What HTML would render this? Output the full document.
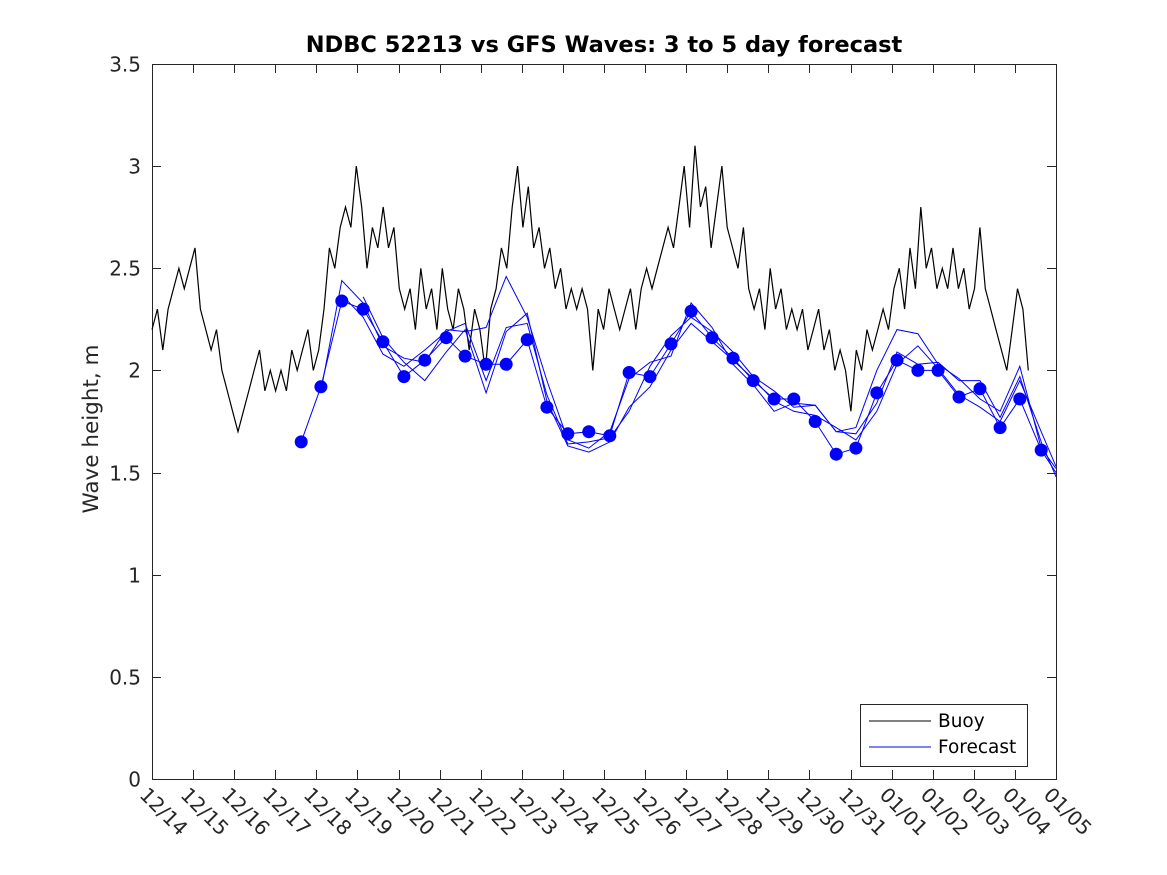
<!DOCTYPE html>
<html><head><meta charset="utf-8">
<style>
html,body{margin:0;padding:0;background:#fff;}
svg{display:block;font-family:"DejaVu Sans","Liberation Sans",sans-serif;}
</style></head>
<body>
<svg id="chart" width="1167" height="875" viewBox="0 0 1167 875" xmlns="http://www.w3.org/2000/svg">
  <rect x="0" y="0" width="1167" height="875" fill="#fff"/>
  <text x="604" y="52" text-anchor="middle" font-size="22.5" font-weight="bold" fill="#000">NDBC 52213 vs GFS Waves: 3 to 5 day forecast</text>
  <text transform="translate(98,429) rotate(-90)" text-anchor="middle" font-size="21.5" fill="#262626">Wave height, m</text>
  <g id="axes"></g>
  <g id="series"></g>
  <g id="legend">
    <rect x="860.5" y="704.5" width="167" height="62" fill="#fff" stroke="#262626" stroke-width="1"/>
    <line x1="869" y1="721" x2="931" y2="721" stroke="#000" stroke-width="1"/>
    <text x="938" y="727" font-size="18.5" fill="#000">Buoy</text>
    <line x1="869" y1="747" x2="931" y2="747" stroke="#0000ff" stroke-width="1"/>
    <text x="938" y="753" font-size="18.5" fill="#000">Forecast</text>
  </g>
</svg>
<script>
// ---- data ----
const xTickLabels = ["12/14","12/15","12/16","12/17","12/18","12/19","12/20","12/21","12/22","12/23","12/24","12/25","12/26","12/27","12/28","12/29","12/30","12/31","01/01","01/02","01/03","01/04","01/05"];
const yTickValues = [0,0.5,1,1.5,2,2.5,3,3.5];
const yTickLabels = ["0","0.5","1","1.5","2","2.5","3","3.5"];
// buoy samples starting 12/14 00:00
const buoyValues = [
2.2,2.3,2.1,2.3,2.4,2.5,2.4,2.5,
2.6,2.3,2.2,2.1,2.2,2.0,1.9,1.8,
1.7,1.8,1.9,2.0,2.1,1.9,2.0,1.9,
2.0,1.9,2.1,2.0,2.1,2.2,2.0,2.1,
2.3,2.6,2.5,2.7,2.8,2.7,3.0,2.8,
2.5,2.7,2.6,2.8,2.6,2.7,2.4,2.3,
2.4,2.2,2.5,2.3,2.4,2.2,2.5,2.3,
2.2,2.4,2.3,2.1,2.3,2.2,2.0,2.3,
2.4,2.6,2.5,2.8,3.0,2.7,2.9,2.6,
2.7,2.5,2.6,2.4,2.5,2.3,2.4,2.3,
2.4,2.3,2.0,2.3,2.2,2.4,2.3,2.2,
2.3,2.4,2.2,2.4,2.5,2.4,2.5,2.6,
2.7,2.6,2.8,3.0,2.7,3.1,2.8,2.9,
2.6,2.8,3.0,2.7,2.6,2.5,2.7,2.4,
2.3,2.4,2.2,2.5,2.3,2.4,2.2,2.3,
2.2,2.3,2.1,2.2,2.3,2.1,2.2,2.0,
2.1,2.0,1.8,2.1,2.0,2.2,2.1,2.2,
2.3,2.2,2.4,2.5,2.3,2.6,2.4,2.8,
2.5,2.6,2.4,2.5,2.4,2.6,2.4,2.5,
2.3,2.4,2.7,2.4,2.3,2.2,2.1,2.0,
2.2,2.4,2.3,2.0];
const buoyStepHours = 3.14;
// forecast times in days since 12/14
const fcDays = [3.63,4.11,4.62,5.14,5.62,6.13,6.64,7.16,7.62,8.13,8.62,9.13,9.61,10.12,10.63,11.14,11.61,12.12,12.63,13.12,13.63,14.14,14.63,15.14,15.62,16.14,16.65,17.13,17.64,18.13,18.64,19.13,19.64,20.15,20.64,21.12,21.64,22.0];
const fcMain = [1.65,1.92,2.34,2.30,2.14,1.97,2.05,2.16,2.07,2.03,2.03,2.15,1.82,1.69,1.70,1.68,1.99,1.97,2.13,2.29,2.16,2.06,1.95,1.86,1.86,1.75,1.59,1.62,1.89,2.05,2.00,2.00,1.87,1.91,1.72,1.86,1.61,1.50];
const fcRun1 = [null,1.90,2.44,2.33,2.12,2.06,2.04,2.20,2.19,2.21,2.46,2.26,1.95,1.66,1.62,1.70,1.96,2.04,2.07,2.33,2.21,2.03,1.93,1.80,1.84,1.83,1.70,1.72,2.00,2.20,2.18,2.03,1.96,1.86,1.80,2.02,1.62,1.52];
const fcRun2 = [null,null,2.37,2.26,2.08,2.02,2.10,2.19,2.23,1.95,2.21,2.23,1.88,1.64,1.65,1.67,1.80,2.02,2.17,2.26,2.19,2.09,1.97,1.90,1.82,1.83,1.70,1.69,1.84,2.09,2.03,2.04,1.95,1.95,1.77,1.97,1.65,1.48];
const fcRun3 = [null,null,null,2.36,2.16,2.04,1.95,2.09,2.20,1.89,2.19,2.28,1.85,1.63,1.60,1.65,1.82,1.92,2.10,2.23,2.14,2.05,1.96,1.85,1.80,1.78,1.72,1.66,1.80,2.03,2.12,2.01,1.88,1.82,1.75,1.95,1.70,1.53];

// ---- axes functions ----
const X0 = 152, X1 = 1056, Y0 = 779, Y1 = 64;
const nDays = 22;
function xs(d){ return X0 + (X1 - X0) * d / nDays; }
function ys(v){ return Y0 - (Y0 - Y1) * v / 3.5; }
const NS = "http://www.w3.org/2000/svg";
function mk(tag, attrs, parent){
  const e = document.createElementNS(NS, tag);
  for (const k in attrs) e.setAttribute(k, attrs[k]);
  parent.appendChild(e);
  return e;
}
const axes = document.getElementById('axes');
const series = document.getElementById('series');

const box = mk('rect', {x: X0+0.5, y: Y1+0.5, width: X1-X0, height: Y0-Y1, fill: 'none', stroke: '#262626', 'stroke-width': 1}, axes);



yTickValues.forEach((v, i) => {
  const y = Math.round(ys(v)) + 0.5;
  const t1 = mk('line', {x1: X0, y1: y, x2: X0+9, y2: y, stroke: '#262626'}, axes);
  
  
  const t2 = mk('line', {x1: X1-9, y1: y, x2: X1, y2: y, stroke: '#262626'}, axes);
  
  
  const lb = mk('text', {x: X0-11, y: y+7, 'text-anchor': 'end', 'font-size': 20, fill: '#262626'}, axes);
  lb.textContent = yTickLabels[i];
  
  
});
xTickLabels.forEach((s, i) => {
  const x = Math.round(xs(i)) + 0.5;
  const t1 = mk('line', {x1: x, y1: Y0, x2: x, y2: Y0-9, stroke: '#262626'}, axes);
  
  
  const t2 = mk('line', {x1: x, y1: Y1, x2: x, y2: Y1+9, stroke: '#262626'}, axes);
  
  
  const lb = mk('text', {transform: `translate(${x-14},${Y0+17}) rotate(45)`, 'font-size': 20, fill: '#262626'}, axes);
  lb.textContent = s;
  
  
});

let bp = buoyValues.map((v, i) => `${xs(i*buoyStepHours/24).toFixed(1)},${ys(v).toFixed(1)}`).join(' ');
const buoy = mk('polyline', {points: bp, fill: 'none', stroke: '#000', 'stroke-width': 1.2}, series);



function runLine(arr, name){
  const pts = [];
  arr.forEach((v, i) => { if (v !== null) pts.push(`${xs(fcDays[i]).toFixed(1)},${ys(v).toFixed(1)}`); });
  const pl = mk('polyline', {points: pts.join(' '), fill: 'none', stroke: '#0000ff', 'stroke-width': 1}, series);
  
  
}
runLine(fcRun1, 'forecast-run-1-line');
runLine(fcRun2, 'forecast-run-2-line');
runLine(fcRun3, 'forecast-run-3-line');
runLine(fcMain, 'forecast-line');
fcMain.forEach((v, i) => {
  if (i >= fcMain.length - 1) return;
  const c = mk('circle', {cx: xs(fcDays[i]).toFixed(1), cy: ys(v).toFixed(1), r: 6.5, fill: '#0000ff'}, series);
  
  
});
</script>
</body></html>
